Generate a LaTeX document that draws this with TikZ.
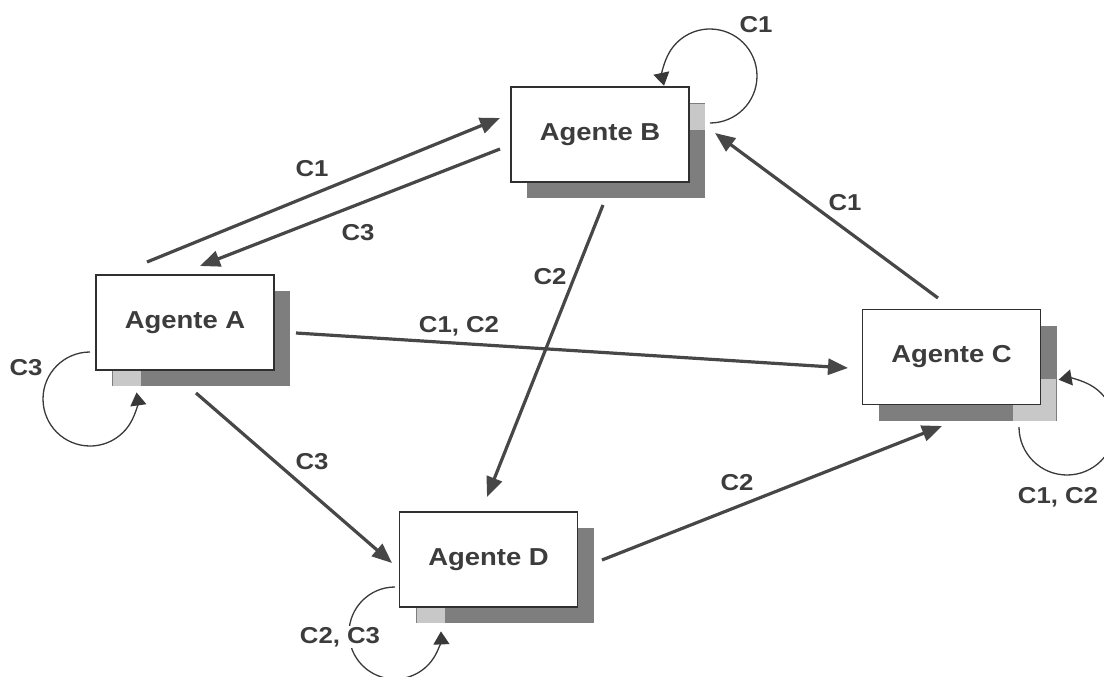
\documentclass[tikz,border=0pt]{standalone}
\usepackage{fontspec}
\newfontfamily\diafont{Liberation Sans}[FakeStretch=1.12]
\usetikzlibrary{arrows.meta,backgrounds}

\definecolor{inkgray}{HTML}{3C3C3C}
\definecolor{linegray}{HTML}{474747}
\definecolor{shadegray}{HTML}{7E7E7E}
\definecolor{paleshade}{HTML}{C8C8C8}

\tikzset{
  agent/.style={draw=inkgray!80!black, line width=1.4pt, fill=white,
    minimum width=178pt, minimum height=95pt, inner sep=0pt, outer sep=0pt,
    text=inkgray, font=\diafont\bfseries\fontsize{24.5}{28}\selectfont},
  flow/.style={draw=linegray, line width=3.2pt, -{Triangle[length=20pt,width=16pt]}},
  selfloop/.style={draw=linegray!80!black, line width=1.3pt,
    -{Triangle[length=13pt,width=16pt]}},
  tag/.style={text=inkgray, font=\diafont\bfseries\fontsize{23}{27}\selectfont,
    inner sep=1pt},
}

\begin{document}
\begin{tikzpicture}[x=1pt,y=-1pt]
  \useasboundingbox (0,0) rectangle (1104,677);
  \clip (0,0) rectangle (1104,677);

  % agents
  \node[agent] (A) at (185,322.5) {Agente A};
  \node[agent] (B) at (600,134.5) {Agente B};
  \node[agent] (C) at (951.5,357) {Agente C};
  \node[agent] (D) at (488.5,559.5) {Agente D};

  % drop shadows with their lighter corners
  \begin{scope}[on background layer]
    \foreach \n in {A,B,C,D}
      \fill[shadegray] ([shift={(16,16)}]\n.north west) rectangle ([shift={(16,16)}]\n.south east);
    \fill[paleshade] ([shift={(17,0)}]A.south west) rectangle ([shift={(45,16)}]A.south west);
    \fill[paleshade] ([shift={(0,17)}]B.north east) rectangle ([shift={(16,43)}]B.north east);
    \fill[paleshade] ([shift={(-28,0)}]C.south east) rectangle ([shift={(15,16)}]C.south east);
    \fill[paleshade] ([shift={(0,-26)}]C.south east) rectangle ([shift={(15,16)}]C.south east);
    \fill[paleshade] ([shift={(17,0)}]D.south west) rectangle ([shift={(45,16)}]D.south west);
  \end{scope}

  % messages between agents
  \draw[flow] ([shift={(-38,-60.5)}]A.center) -- ([shift={(-100,-16.5)}]B.center);
  \draw[flow] ([shift={(-100,14.5)}]B.center) -- ([shift={(15,-56.5)}]A.center);
  \draw[flow] ([shift={(3,70.5)}]B.center) -- ([shift={(-1.5,-62.5)}]D.center);
  \draw[flow] ([shift={(111,10.5)}]A.center) -- ([shift={(-103.5,11)}]C.center);
  \draw[flow] ([shift={(-13.5,-59)}]C.center) -- ([shift={(115,-1.5)}]B.center);
  \draw[flow] ([shift={(11,70.5)}]A.center) -- ([shift={(-96.5,3.5)}]D.center);
  \draw[flow] ([shift={(113.5,0.5)}]D.center) -- ([shift={(-9.5,69)}]C.center);

  % self messages
  \draw[selfloop] ([shift={(110,-11.5)}]B.center) arc[start angle=90, end angle=-192, radius=47];
  \draw[selfloop] ([shift={(-95,29.5)}]A.center) arc[start angle=-90, end angle=-368, radius=47];
  \draw[selfloop] ([shift={(67.5,70)}]C.center) arc[start angle=-180, end angle=-460, radius=48];
  \draw[selfloop] ([shift={(-93.5,27.5)}]D.center) arc[start angle=-90, end angle=-362, radius=46];

  % channel labels
  \node[tag] (tAB) at (312,169) {C1};
  \node[tag] (tBA) at (358,233) {C3};
  \node[tag] (tAC) at (459,326) {C1, C2};
  \node[tag] (tCB) at (845,203) {C1};
  \node[tag] (tAD) at (312,462) {C3};
  \node[tag] (tDC) at (737,483) {C2};
  \node[tag] (tBD) at (550,277) {C2};
  \node[tag] (tBB) at (756,25) {C1};
  \node[tag] (tAA) at (26,368) {C3};
  \node[tag] (tCC) at (1058,497) {C1, C2};
  \node[tag, fill=white] (tDD) at (340,637) {C2, C3};
\end{tikzpicture}
\end{document}
